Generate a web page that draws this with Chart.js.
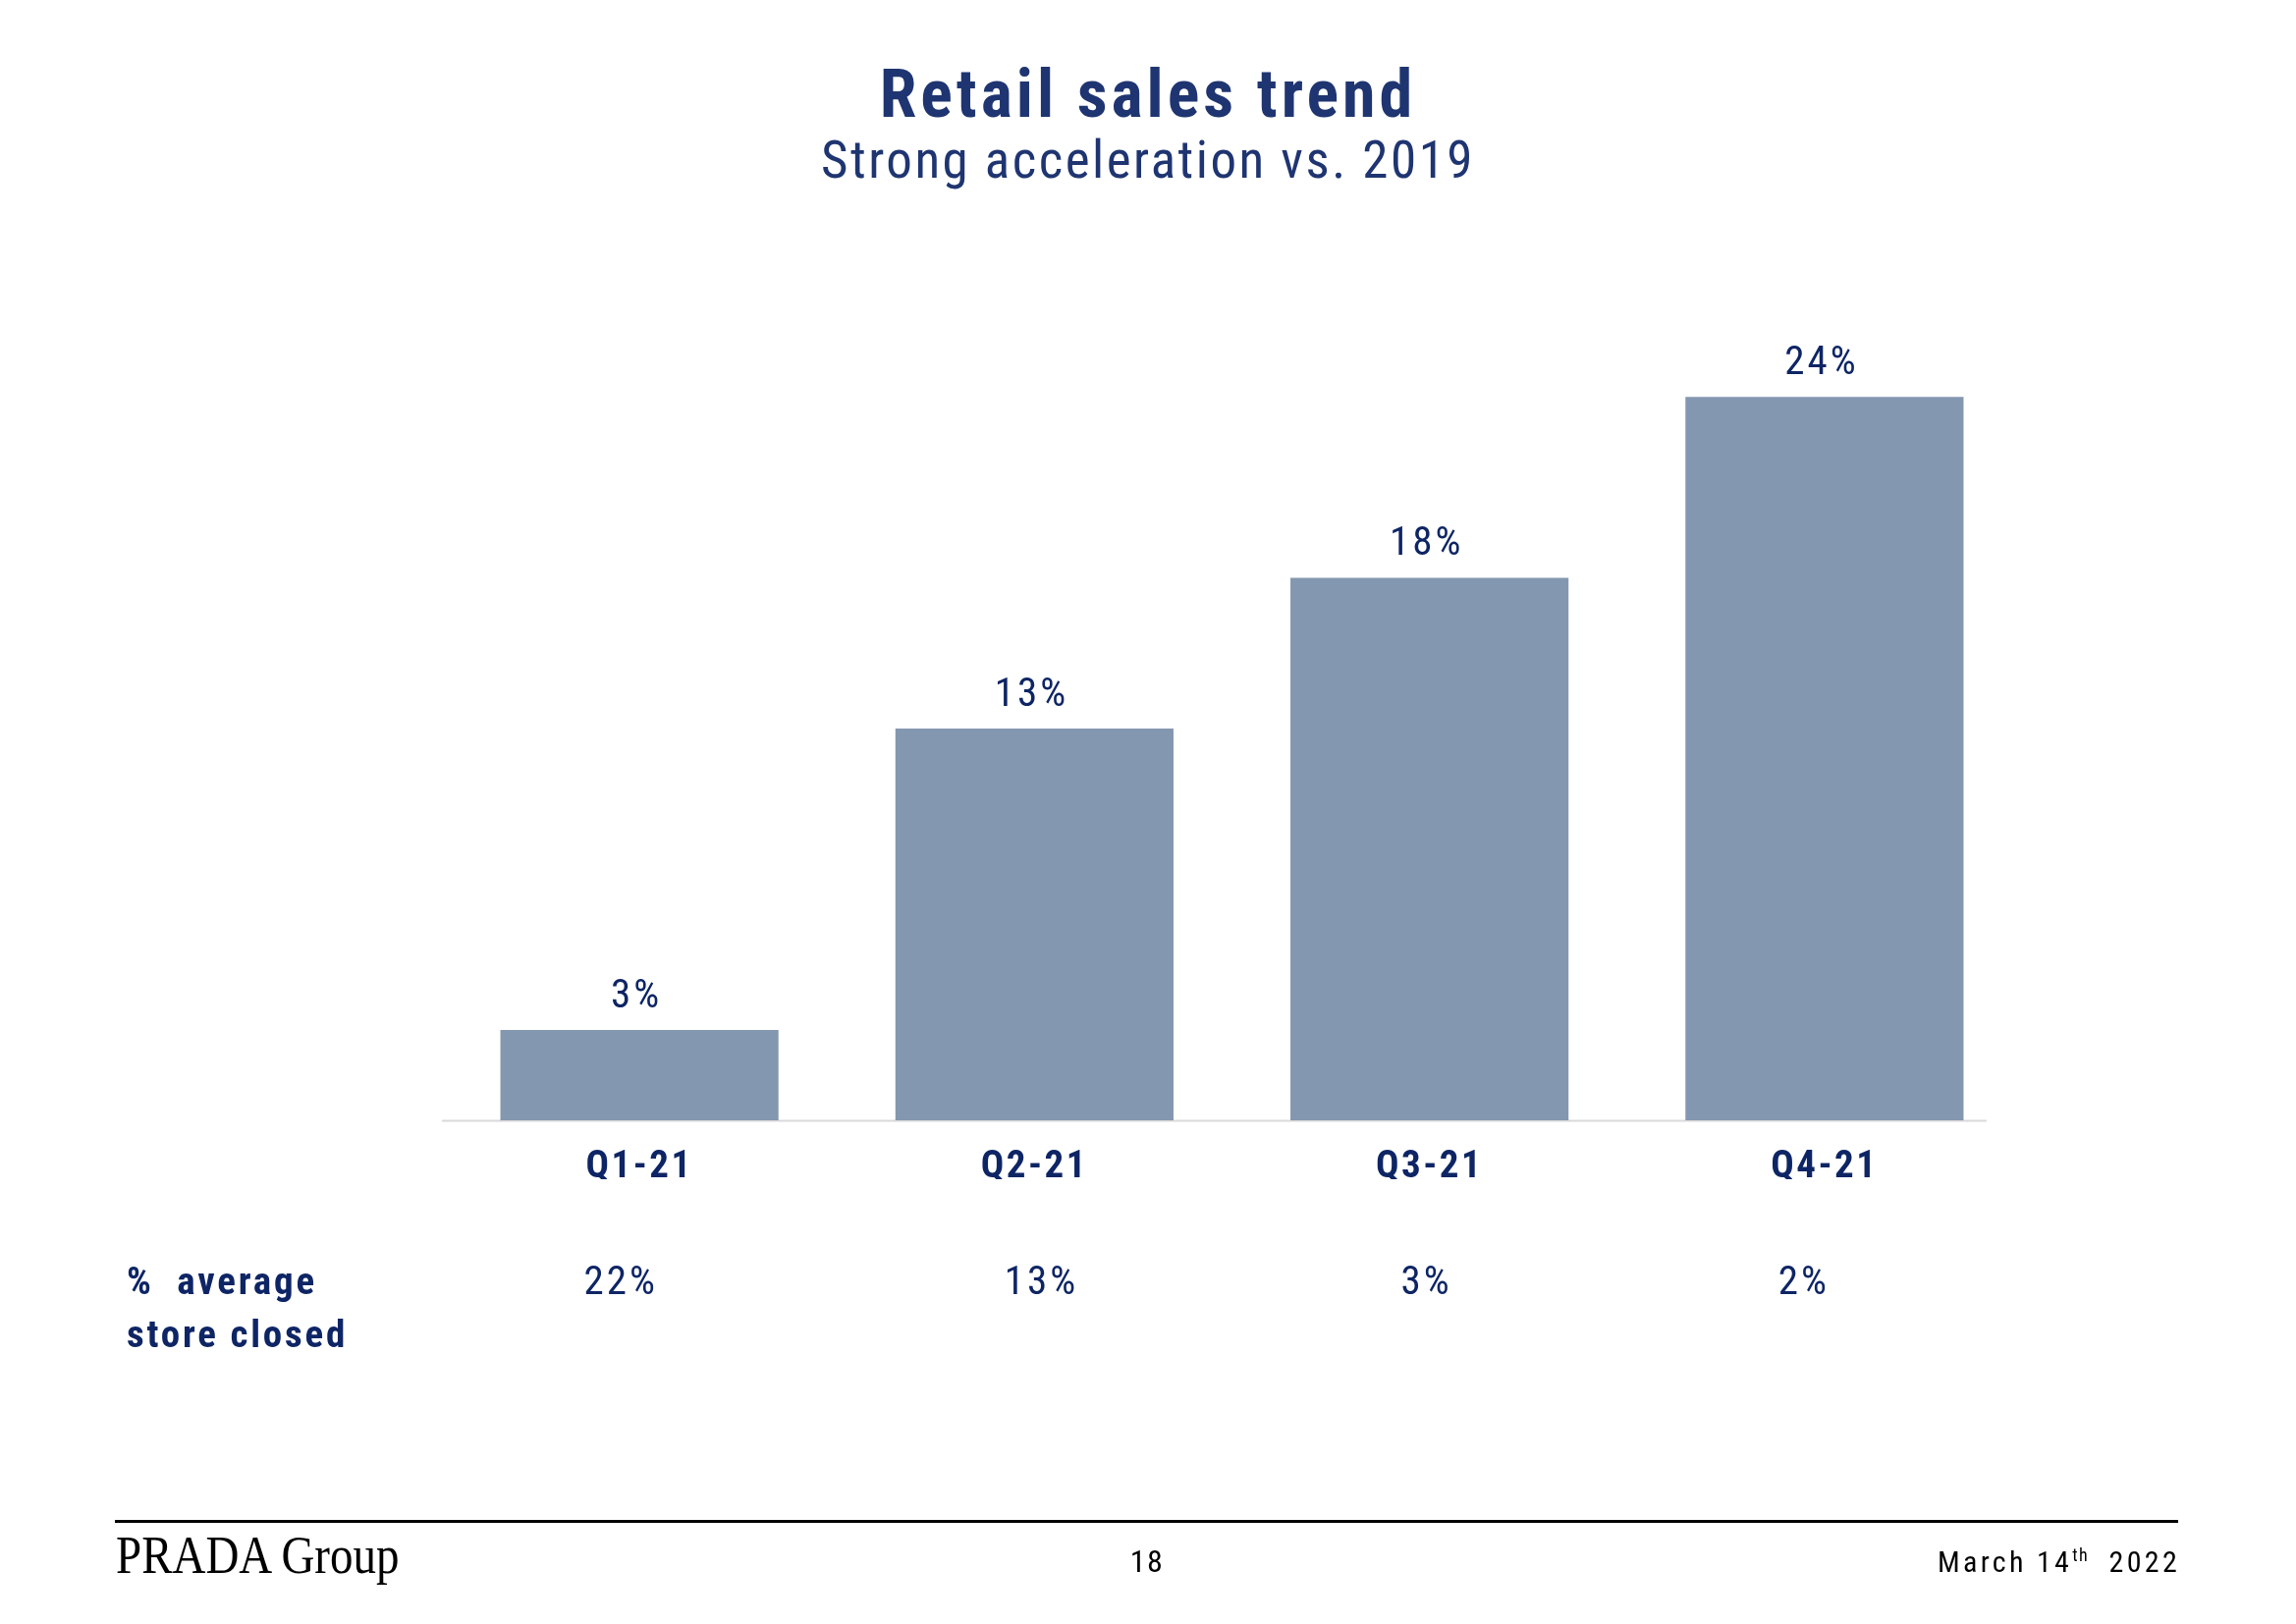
<!DOCTYPE html>
<html>
<head>
<meta charset="utf-8">
<script src="https://cdn.jsdelivr.net/npm/chart.js@4/dist/chart.umd.min.js"></script>
<style>
  html, body { margin: 0; padding: 0; background: #ffffff; }
  body { width: 2338px; height: 1654px; position: relative; overflow: hidden;
         font-family: 'Roboto Condensed', 'Liberation Sans Narrow', 'Arial Narrow', sans-serif; }
  .abs { position: absolute; white-space: nowrap; }
  #title { left: 0; width: 2338px; top: 62px; text-align: center; font-size: 68px; line-height: 68px;
           font-weight: bold; color: #1F3571; letter-spacing: 4px; }
  #subtitle { left: 0; width: 2338px; top: 137px; text-align: center; font-size: 53px; line-height: 53px;
              color: #1F3571; letter-spacing: 2.5px; }
  #rowhead { left: 129px; top: 1278px; font-size: 39px; line-height: 54px; font-weight: bold;
             color: #0E2565; letter-spacing: 2.8px; }
  #rule { left: 117px; top: 1548px; width: 2101px; height: 3px; background: #000; }
  #brand { left: 118px; top: 1557px; font-family: 'Liberation Serif', 'Times New Roman', serif;
           font-size: 54px; line-height: 54px; color: #000; transform: scaleX(0.87); transform-origin: left top; }
  #page { left: 1068px; width: 200px; top: 1574px; text-align: center; font-size: 32px; line-height: 32px;
          color: #000; letter-spacing: 1.5px; }
  #date { right: 118px; top: 1576px; font-size: 30px; line-height: 30px; color: #000; letter-spacing: 3.3px; }
  #date sup { font-size: 18px; vertical-align: 11px; line-height: 0; letter-spacing: 1.5px; }
  #wrap { position: absolute; left: 0; top: 0; width: 2338px; height: 1654px; }
</style>
</head>
<body>
<div id="wrap"><canvas id="chart"></canvas></div>
<div id="title" class="abs">Retail sales trend</div>
<div id="subtitle" class="abs">Strong acceleration vs. 2019</div>
<div id="rowhead" class="abs">% &nbsp;average<br>store closed</div>
<div id="rule" class="abs"></div>
<div id="brand" class="abs">PRADA Group</div>
<div id="page" class="abs">18</div>
<div id="date" class="abs">March 14<sup>th</sup>&nbsp; 2022</div>
<script>
// ---- data ----
const categories = ['Q1-21', 'Q2-21', 'Q3-21', 'Q4-21'];
const salesVs2019 = [3, 13, 18, 24];          // retail sales growth vs. 2019, %
const storeClosedPct = [22, 13, 3, 2];        // % average store closed
const yAxisMax = 30;

// ---- styling ----
const FONT = "'Roboto Condensed', 'Liberation Sans Narrow', 'Arial Narrow', sans-serif";
const NAVY = '#0E2565';
const BAR = '#8497B0';
const closedRowBaseline = 1318;
const closedRowNudge = [-19, 7, -3, -21];

const labelsPlugin = {
  id: 'labelsPlugin',
  beforeDraw(chart) {
    chart.ctx.letterSpacing = '2.5px';
  },
  beforeDatasetsDraw(chart) {
    const { ctx, chartArea, scales } = chart;
    const x = scales.x;
    const n = categories.length;
    const step = (chartArea.right - chartArea.left) / n;
    ctx.save();
    ctx.strokeStyle = '#D9D9D9';
    ctx.lineWidth = 2;
    ctx.beginPath();
    ctx.moveTo(chartArea.left, chartArea.bottom + 0.5);
    ctx.lineTo(x.getPixelForValue(n - 1) + step * 0.41, chartArea.bottom + 0.5);
    ctx.stroke();
    ctx.restore();
  },
  afterDatasetsDraw(chart) {
    const { ctx, scales } = chart;
    const meta = chart.getDatasetMeta(0);
    ctx.save();
    ctx.letterSpacing = '3px';
    ctx.fillStyle = NAVY;
    ctx.font = '41px ' + FONT;
    ctx.textAlign = 'center';
    ctx.textBaseline = 'alphabetic';
    meta.data.forEach((bar, i) => {
      ctx.fillText(salesVs2019[i] + '%', bar.x - 3, bar.y - 23);
    });
    storeClosedPct.forEach((v, i) => {
      ctx.fillText(v + '%', scales.x.getPixelForValue(i) + closedRowNudge[i], closedRowBaseline);
    });
    ctx.restore();
  }
};

new Chart(document.getElementById('chart'), {
  type: 'bar',
  data: {
    labels: categories,
    datasets: [{
      data: salesVs2019,
      backgroundColor: BAR,
      borderWidth: 0,
      categoryPercentage: 1.0,
      barPercentage: 0.704
    }]
  },
  options: {
    responsive: true,
    maintainAspectRatio: false,
    animation: false,
    devicePixelRatio: 1,
    layout: { padding: { left: 450, right: 279, top: 220, bottom: 453 } },
    plugins: { legend: { display: false }, tooltip: { enabled: false }, title: { display: false } },
    scales: {
      x: {
        grid: { display: false, drawTicks: false, tickLength: 0 },
        border: { display: false },
        ticks: {
          color: NAVY,
          padding: 25,
          maxRotation: 0,
          font: { family: FONT, size: 39, weight: 'bold' }
        },
        afterFit(scale) { scale.height = 60; }
      },
      y: {
        display: false,
        min: 0,
        max: yAxisMax
      }
    }
  },
  plugins: [labelsPlugin]
});
</script>
</body>
</html>
